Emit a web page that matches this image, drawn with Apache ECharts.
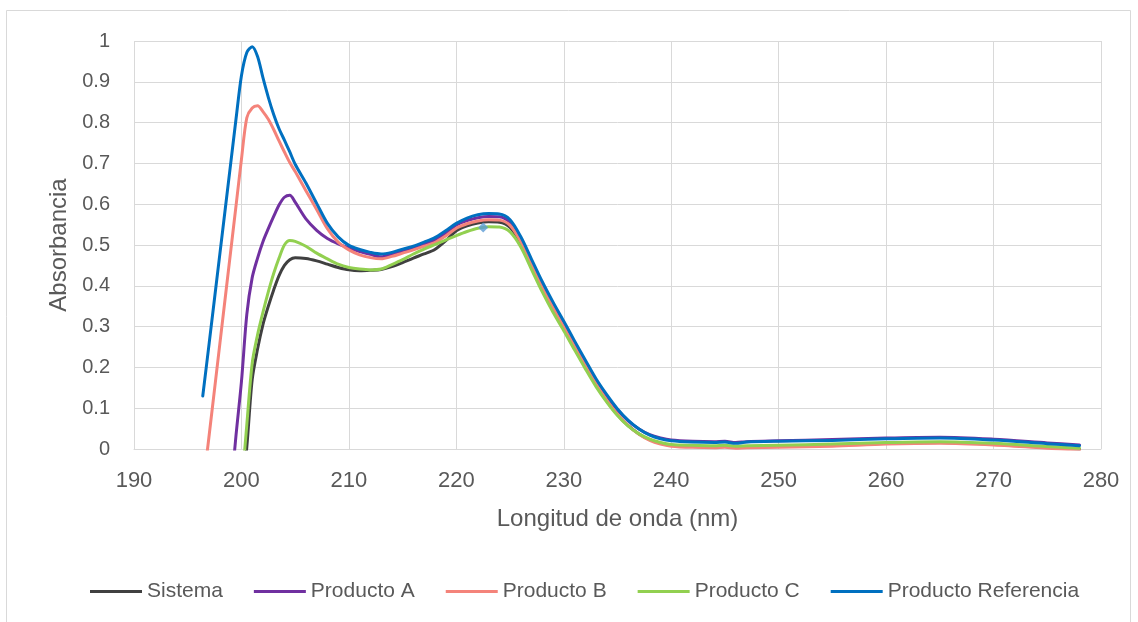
<!DOCTYPE html>
<html>
<head>
<meta charset="utf-8">
<script src="https://cdn.jsdelivr.net/npm/echarts@6/dist/echarts.min.js"></script>
<style>
html,body{margin:0;padding:0;background:#fff;}
#chart{width:1138px;height:622px;}
</style>
</head>
<body>
<div id="chart"></div>
<script>
var wavelength = [196.4,197,198,199,199.5,200,200.5,201,201.5,202,202.5,203,203.5,204,204.5,205,206,207,208,209,210,211,212,213,214,215,216,217,218,219,220,221,222,223,224,225,226,227,228,229,230,231,232,233,234,235,236,237,238,239,240,242,244,245,246,247,250,255,260,265,270,275,278];

var sistema = [null,null,null,null,null,-0.12,0.005,0.17,0.245,0.305,0.35,0.39,0.425,0.45,0.464,0.469,0.467,0.461,0.453,0.445,0.439,0.437,0.438,0.44,0.447,0.457,0.468,0.478,0.489,0.51,0.535,0.547,0.554,0.557,0.556,0.543,0.503,0.448,0.393,0.343,0.296,0.248,0.202,0.157,0.118,0.084,0.057,0.037,0.023,0.014,0.009,0.006,0.005,0.006,0.004,0.005,0.006,0.009,0.014,0.016,0.012,0.004,0.0];

var productoA = [null,null,null,-0.11,0.035,0.165,0.33,0.42,0.468,0.508,0.54,0.57,0.598,0.617,0.622,0.605,0.564,0.536,0.516,0.503,0.493,0.484,0.477,0.471,0.478,0.486,0.493,0.503,0.512,0.528,0.549,0.56,0.567,0.57,0.569,0.555,0.515,0.46,0.405,0.355,0.308,0.26,0.213,0.168,0.13,0.096,0.069,0.049,0.035,0.027,0.022,0.019,0.018,0.019,0.016,0.018,0.02,0.023,0.027,0.029,0.024,0.015,0.01];

var productoB = [-0.10,0.035,0.26,0.485,0.597,0.71,0.812,0.836,0.841,0.827,0.808,0.783,0.755,0.728,0.702,0.68,0.633,0.587,0.54,0.507,0.488,0.476,0.469,0.466,0.472,0.48,0.488,0.497,0.506,0.522,0.541,0.552,0.559,0.562,0.561,0.548,0.508,0.452,0.397,0.347,0.30,0.252,0.205,0.16,0.12,0.085,0.057,0.036,0.021,0.012,0.007,0.004,0.003,0.004,0.002,0.003,0.004,0.007,0.012,0.014,0.01,0.002,-0.003];

var productoC = [null,null,null,null,null,-0.10,0.06,0.21,0.28,0.335,0.385,0.43,0.468,0.5,0.511,0.509,0.497,0.48,0.466,0.453,0.445,0.441,0.439,0.441,0.452,0.464,0.478,0.49,0.501,0.512,0.523,0.533,0.541,0.545,0.544,0.532,0.495,0.44,0.385,0.335,0.29,0.243,0.197,0.153,0.115,0.082,0.056,0.037,0.024,0.016,0.011,0.009,0.008,0.009,0.007,0.008,0.009,0.012,0.016,0.018,0.014,0.006,0.002];

var productoRef = [0.13,0.26,0.48,0.70,0.81,0.915,0.972,0.986,0.962,0.91,0.862,0.82,0.785,0.757,0.728,0.698,0.652,0.602,0.553,0.52,0.499,0.489,0.482,0.478,0.482,0.49,0.497,0.507,0.518,0.535,0.553,0.566,0.574,0.577,0.576,0.562,0.52,0.465,0.41,0.36,0.313,0.265,0.218,0.172,0.133,0.098,0.07,0.049,0.034,0.025,0.02,0.017,0.016,0.017,0.014,0.017,0.019,0.021,0.025,0.027,0.022,0.013,0.008];

var strayMarker = [[222.5, 0.543]];

var seriesNames = ['Sistema','Producto A','Producto B','Producto C','Producto Referencia'];
var seriesColors = ['#404040','#7030A0','#F4837A','#92D050','#0070C0'];
var seriesValues = [sistema, productoA, productoB, productoC, productoRef];

function pairs(vals){
  return wavelength.map(function(x,i){ return [x, vals[i]]; });
}

var FONT = 'Liberation Sans';
var TXT = '#595959';

var series = seriesNames.map(function(n,i){
  return {
    name: n, type: 'line', data: pairs(seriesValues[i]),
    smooth: 0.3, showSymbol: false, symbol: 'none',
    clip: true, connectNulls: false,
    lineStyle: {width: 3, color: seriesColors[i], cap: 'round', join: 'round'},
    itemStyle: {color: seriesColors[i]},
    z: 2 + i
  };
});
series.push({
  name: 'marker', type: 'scatter', data: strayMarker, symbol: 'diamond', symbolSize: 10,
  itemStyle: {color: '#5B9BD5'}, z: 20, silent: true
});

var chart = echarts.init(document.getElementById('chart'), null, {renderer: 'canvas'});
chart.setOption({
  animation: false,
  backgroundColor: '#fff',
  graphic: [{type: 'rect', shape: {x: 6.5, y: 10.5, width: 1124, height: 640}, style: {fill: 'none', stroke: '#D9D9D9', lineWidth: 1}, silent: true}],
  grid: {left: 134, right: 37, top: 41, bottom: 173, containLabel: false},
  legend: {
    data: seriesNames, left: 85, top: 576, icon: 'rect', itemWidth: 52, itemHeight: 3, itemGap: 31,
    textStyle: {color: TXT, fontFamily: FONT, fontSize: 21}
  },
  xAxis: {
    type: 'value', min: 190, max: 280, interval: 10,
    name: 'Longitud de onda (nm)', nameLocation: 'middle', nameGap: 58,
    nameTextStyle: {color: TXT, fontFamily: FONT, fontSize: 24},
    axisLine: {show: true, lineStyle: {color: '#D9D9D9', width: 1}},
    axisTick: {show: false},
    axisLabel: {color: TXT, fontFamily: FONT, fontSize: 22, margin: 21},
    splitLine: {show: true, lineStyle: {color: '#D9D9D9', width: 1}}
  },
  yAxis: {
    type: 'value', min: 0, max: 1, interval: 0.1,
    name: 'Absorbancia', nameLocation: 'middle', nameGap: 60,
    nameTextStyle: {color: TXT, fontFamily: FONT, fontSize: 24},
    axisLine: {show: false},
    axisTick: {show: false},
    axisLabel: {color: TXT, fontFamily: FONT, fontSize: 20, margin: 24},
    splitLine: {show: true, lineStyle: {color: '#D9D9D9', width: 1}}
  },
  series: series
});
</script>
</body>
</html>
